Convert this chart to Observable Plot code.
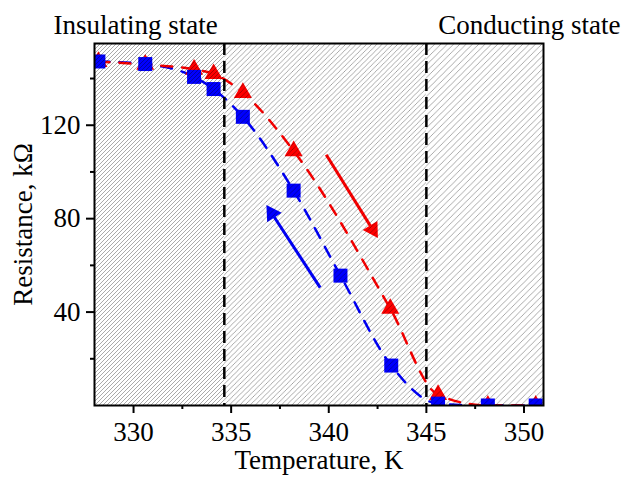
<!DOCTYPE html>
<html><head><meta charset="utf-8">
<script src="https://cdn.jsdelivr.net/npm/d3@7"></script>
<script src="https://cdn.jsdelivr.net/npm/@observablehq/plot@0.6"></script>
<style>body{margin:0;background:#fff}</style>
</head><body><div id="chart"></div>
<script>
// Heating (red triangles)
const heatT = [328.2, 330.6, 333.1, 334.1, 335.6, 338.2, 343.15, 345.6, 348.15, 350.6];
const heatR = [147.2, 146.0, 143.9, 142.0, 133.9, 109.0, 41.5, 4.6, 0, 0];
// Cooling (blue squares)
const coolT = [328.2, 330.6, 333.1, 334.1, 335.6, 338.2, 340.6, 343.2, 345.6, 348.15, 350.6];
const coolR = [147.3, 146.2, 140.7, 135.5, 123.6, 92.0, 55.6, 17.1, 0.8, 0, 0];
// Region boundaries
const boundaries = [334.65, 345];
const regionStart = [328, 334.65, 345];
const regionEnd = [334.65, 345, 351];
const hatchSpacing = [4, 5.2, 6.3];
// Arrows (shaft start, head position, direction)
const arrowT1 = [339.87, 339.56];
const arrowR1 = [107.4, 50.5];
const arrowT2 = [342.25, 337.08];
const arrowR2 = [75.3, 82.3];
const arrowAngle = [148.5, -32.7];
const arrowColor = ["#ff0000", "#0000ff"];
// Ticks and labels
const majorX = [330, 335, 340, 345, 350];
const minorX = [332.5, 337.5, 342.5, 347.5];
const majorY = [40, 80, 120];
const minorY = [20, 60, 100, 140];
const stateLabels = ["Insulating state", "Conducting state"];
const xLabel = "Temperature, K";
const yLabel = "Resistance, kΩ";

const heat = heatT.map((t, i) => ({T: t, R: heatR[i]}));
const cool = coolT.map((t, i) => ({T: t, R: coolR[i]}));
const arrows = arrowT1.map((t, i) => ({x1: t, y1: arrowR1[i], x2: arrowT2[i], y2: arrowR2[i], a: arrowAngle[i], c: arrowColor[i]}));
const regions = regionStart.map((s, i) => ({x1: s, x2: regionEnd[i], p: `url(#hatch${i})`}));

const RED = "#ff0000", BLUE = "#0000ff";
const font = "'Liberation Serif', 'Times New Roman', serif";

const plot = Plot.plot({
  width: 623, height: 477,
  marginLeft: 94, marginRight: 80, marginTop: 43, marginBottom: 72,
  style: {fontFamily: font, fontSize: "27px", background: "#fff", color: "#000", overflow: "visible"},
  x: {domain: [328, 351], label: null},
  y: {domain: [0, 155], label: null},
  marks: [
    Plot.line(cool, {x: "T", y: "R", stroke: BLUE, strokeWidth: 2.5, strokeDasharray: "11,10", curve: "monotone-x", clip: true}),
    Plot.line(heat, {x: "T", y: "R", stroke: RED, strokeWidth: 2.5, strokeDasharray: "11,10", curve: "monotone-x", clip: true}),
    Plot.dot(heat, {x: "T", y: "R", symbol: "triangle", r: 6.7, fill: RED, stroke: null, clip: true}),
    Plot.dot(cool, {x: "T", y: "R", symbol: "square", r: 7.9, fill: BLUE, stroke: null, clip: true}),
    Plot.link(arrows, {x1: "x1", y1: "y1", x2: "x2", y2: "y2", stroke: d => d.c, strokeWidth: 3}),
    Plot.dot(arrows, {x: "x2", y: "y2", symbol: "triangle", r: 6.4, rotate: "a", fill: d => d.c, stroke: null}),
    ...regions.map(r => Plot.rect([r], {x1: "x1", x2: "x2", y1: 0, y2: 155, fill: r.p, stroke: null})),
    Plot.ruleX(boundaries, {stroke: "#000", strokeWidth: 2.5, strokeDasharray: "12,6"}),
    Plot.frame({stroke: "#000", strokeWidth: 2}),
    Plot.axisX({ticks: majorX, tickSize: 8, tickPadding: 8, strokeWidth: 2, tickFormat: d => String(d),
      label: xLabel, labelAnchor: "center", labelArrow: "none", labelOffset: 63}),
    Plot.axisX({ticks: minorX, tickSize: 4, strokeWidth: 2, text: null, label: null}),
    Plot.axisY({ticks: majorY, tickSize: 8, tickPadding: 6, strokeWidth: 2, tickFormat: d => String(d),
      label: yLabel, labelAnchor: "center", labelArrow: "none", labelOffset: 82}),
    Plot.axisY({ticks: minorY, tickSize: 4, strokeWidth: 2, text: null, label: null}),
    Plot.text([stateLabels[0]], {text: d => d, frameAnchor: "top-left", textAnchor: "start", lineAnchor: "bottom", dx: -41, dy: -10, fontSize: 27}),
    Plot.text([stateLabels[1]], {text: d => d, frameAnchor: "top-right", textAnchor: "end", lineAnchor: "bottom", dx: 77, dy: -10, fontSize: 27})
  ]
});

const svg = d3.select(plot);
const defs = svg.insert("defs", ":first-child");
hatchSpacing.forEach((s, i) => {
  const p = defs.append("pattern").attr("id", `hatch${i}`).attr("patternUnits", "userSpaceOnUse")
    .attr("width", s).attr("height", s);
  p.append("path")
    .attr("d", `M0,${s} L${s},0 M${-s/2},${s/2} L${s/2},${-s/2} M${s/2},${1.5*s} L${1.5*s},${s/2}`)
    .attr("stroke", "#000").attr("stroke-opacity", 0.42).attr("stroke-width", 0.8).attr("fill", "none");
});
document.getElementById("chart").appendChild(plot);
</script>
</body></html>
